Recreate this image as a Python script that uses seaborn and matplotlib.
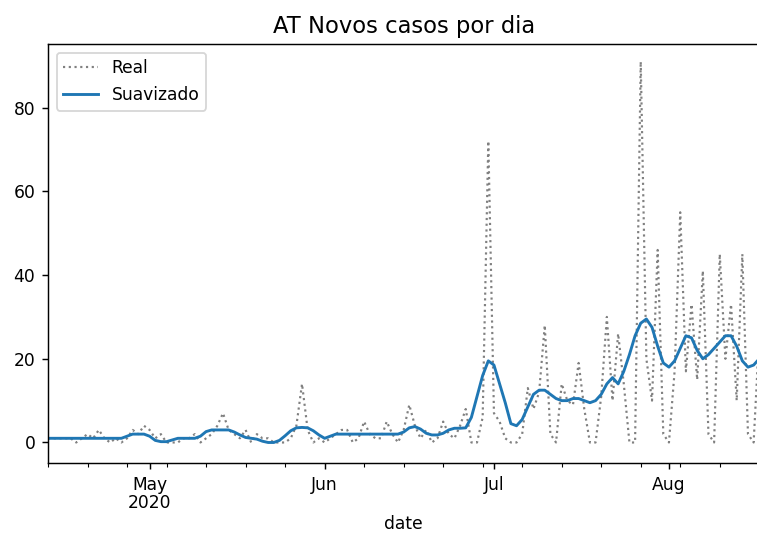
import pandas as pd
import numpy as np
import matplotlib
matplotlib.use("Agg")
import matplotlib.pyplot as plt
import matplotlib.dates as mdates
import seaborn as sns

# daily values, 2020-04-13 .. 2020-08-17
start_date = "2020-04-13"
real_cases = [
    1, 1, 1, 1, 1, 0, 1, 2, 1, 3, 1, 0, 1, 0,          # Apr 13 - Apr 26
    1, 3, 2, 4, 3, 1, 2, 0, 0, 0, 1, 1, 2, 0,          # Apr 27 - May 10
    1, 2, 4, 7, 3, 2, 1, 3, 0, 2, 1, 1, 0, 0,          # May 11 - May 24
    0, 1, 4, 14, 3, 0, 1, 0, 1, 2, 3, 3, 0, 1,         # May 25 - Jun 7
    5, 2, 1, 1, 5, 2, 0, 3, 9, 4, 1, 3, 0, 1,          # Jun 8 - Jun 21
    5, 2, 1, 4, 8, 0, 0, 6, 72, 7, 5, 1, 0, 0,         # Jun 22 - Jul 5
    2, 13, 8, 12, 28, 2, 0, 14, 10, 9, 19, 8, 0, 0,    # Jul 6 - Jul 19
    11, 30, 10, 26, 14, 0, 0, 91, 20, 10, 46, 2, 0, 17,  # Jul 20 - Aug 2
    55, 17, 33, 15, 41, 2, 0, 45, 20, 33, 10, 45, 2, 0,  # Aug 3 - Aug 16
    26,                                                # Aug 17
]
smoothed = [
    1.0, 1.0, 1.0, 1.0, 1.0, 1.0, 1.0, 1.0, 1.0, 1.0, 1.0, 1.0, 1.0, 1.0,
    1.5, 2.0, 2.0, 2.0, 1.5, 0.5, 0.2, 0.2, 0.6, 1.0, 1.0, 1.0, 1.0, 1.5,
    2.6, 3.0, 3.0, 3.0, 3.0, 2.5, 1.8, 1.2, 1.0, 0.8, 0.3, 0.0, 0.0, 0.5,
    1.6, 2.8, 3.5, 3.6, 3.5, 2.8, 1.8, 1.0, 1.5, 2.0, 2.0, 2.0, 2.0, 2.0,
    2.0, 2.0, 2.0, 2.0, 2.0, 2.0, 2.0, 2.5, 3.5, 3.8, 3.2, 2.2, 1.8, 1.8,
    2.2, 3.0, 3.4, 3.4, 3.5, 6.0, 11.0, 16.0, 19.5, 18.5, 14.0, 9.5, 4.5, 4.0,
    5.5, 8.5, 11.5, 12.5, 12.5, 11.5, 10.5, 10.0, 10.0, 10.5, 10.5, 10.0, 9.5, 10.0,
    11.5, 14.0, 15.5, 14.0, 17.0, 21.0, 25.5, 28.5, 29.5, 27.5, 23.0, 19.0, 18.0, 19.5,
    22.5, 25.5, 25.0, 22.0, 20.0, 21.0, 22.5, 24.0, 25.5, 25.5, 23.0, 19.5, 18.0, 18.5,
    20.0,
]
month_ticks = ["2020-05-01", "2020-06-01", "2020-07-01", "2020-08-01"]
month_labels = ["May\n2020", "Jun", "Jul", "Aug"]

dates = pd.date_range(start_date, periods=len(real_cases), freq="D")
df = pd.DataFrame({"date": dates, "Real": real_cases, "Suavizado": smoothed})

fig = plt.figure(figsize=(757 / 130, 534 / 130), dpi=130)
ax = fig.add_axes([48 / 757, 1 - 463 / 534, 1.003 - 48 / 757, (463 - 44) / 534])

sns.lineplot(data=df, x="date", y="Real", ax=ax, color="grey",
             linestyle=":", linewidth=1.2, label="Real")
sns.lineplot(data=df, x="date", y="Suavizado", ax=ax, color="#1f77b4",
             linewidth=1.6, label="Suavizado")

ax.set_xlim(dates[0], dates[-1])
ax.set_ylim(-4.9, 95.2)
ax.set_xticks(pd.to_datetime(month_ticks))
ax.set_xticklabels(month_labels, linespacing=1.0)
ax.xaxis.set_minor_locator(mdates.WeekdayLocator(byweekday=mdates.MO))
ax.set_yticks([0, 20, 40, 60, 80])
ax.tick_params(axis="both", labelsize=9.5)
ax.set_xlabel("date", fontsize=9.5, labelpad=2)
ax.set_ylabel("")
ax.set_title("AT Novos casos por dia", fontsize=12.5)
ax.legend(loc="upper left", fontsize=9.5)

fig.savefig("out.png", dpi=130)
